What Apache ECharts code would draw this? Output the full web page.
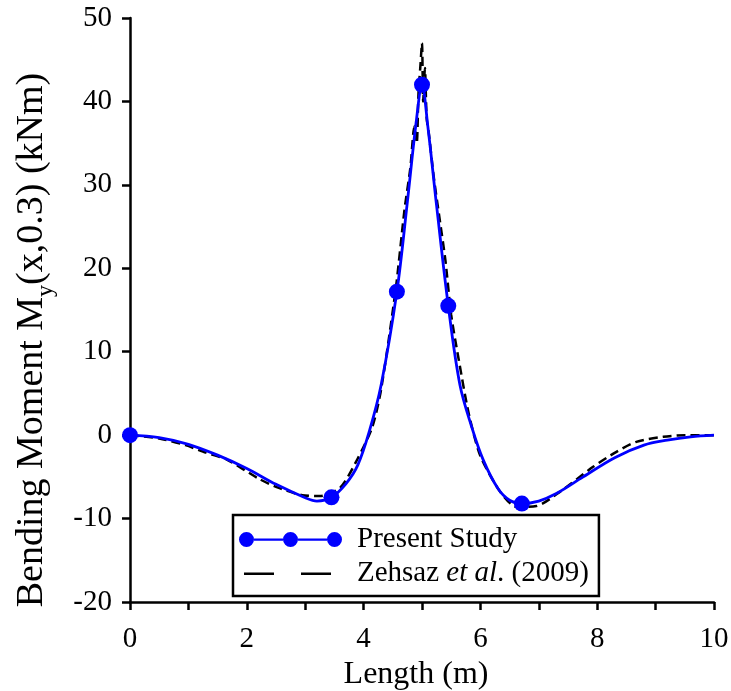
<!DOCTYPE html>
<html>
<head>
<meta charset="utf-8">
<script src="https://cdn.jsdelivr.net/npm/echarts@6/dist/echarts.min.js"></script>
<style>html,body{margin:0;padding:0;background:#fff;}#c{width:731px;height:691px;}</style>
</head>
<body>
<div id="c"></div>
<script>
// Present Study (smooth curve)
const presentX = [0, 0.5, 1.0, 1.5, 2.0, 2.5, 3.0, 3.2, 3.45, 3.7, 3.9, 4.1, 4.3, 4.57, 4.75, 4.9, 5.0, 5.1, 5.25, 5.45, 5.65, 5.85, 6.05, 6.3, 6.5, 6.71, 7.0, 7.3, 7.76, 8.3, 8.8, 9.2, 9.6, 10];
const presentY = [0, -0.3, -1.1, -2.4, -4.0, -5.9, -7.5, -7.9, -7.45, -5.8, -3.6, 0.5, 6.0, 17.2, 28.0, 37.5, 42.0, 37.0, 27.5, 15.5, 6.0, 1.0, -3.0, -6.4, -7.8, -8.2, -7.9, -7.0, -5.0, -2.7, -1.2, -0.6, -0.2, 0];
// Present Study markers
const markerX = [0, 3.45, 4.57, 5.0, 5.45, 6.71];
const markerY = [0, -7.45, 17.2, 42.0, 15.5, -8.2];
// Zehsaz et al. (2009)
const zehsazX = [0, 0.5, 0.95, 1.3, 1.65, 2.2, 2.5, 2.95, 3.25, 3.6, 3.9, 4.15, 4.3, 4.55, 4.7, 4.8, 4.87, 4.91, 4.94, 4.97, 5.0, 5.02, 5.05, 5.08, 5.12, 5.2, 5.3, 5.4, 5.5, 5.62, 5.8, 6.0, 6.34, 6.62, 6.96, 7.36, 7.93, 8.33, 8.67, 9.13, 9.5, 10];
const zehsazY = [0, -0.4, -1.2, -2.1, -2.9, -5.2, -6.2, -7.2, -7.3, -6.3, -2.8, 1.0, 5.5, 17.5, 27.0, 32.0, 37.0, 35.0, 41.0, 44.0, 47.0, 40.0, 44.0, 38.0, 36.0, 31.0, 26.0, 21.0, 14.4, 9.4, 2.6, -2.5, -6.8, -8.6, -8.5, -6.8, -3.8, -2.0, -0.8, -0.2, 0, 0];
const seriesNames = ['Present Study', 'Zehsaz et al. (2009)'];
const xTicks = {min: 0, max: 10, interval: 2};
const yTicks = {min: -20, max: 50, interval: 10};

const zip = (a, b) => a.map((v, i) => [v, b[i]]);
const FONT = '"Liberation Serif", "Times New Roman", serif';

const chart = echarts.init(document.getElementById('c'), null, {renderer: 'canvas'});
chart.setOption({
  animation: false,
  backgroundColor: '#fff',
  grid: {left: 130, right: 17, top: 18, bottom: 89, containLabel: false, outerBoundsMode: 'none'},
  xAxis: {
    type: 'value', min: xTicks.min, max: xTicks.max, interval: xTicks.interval,
    name: 'Length (m)', nameLocation: 'middle', nameGap: 57, nameMoveOverlap: false,
    nameTextStyle: {fontFamily: FONT, fontSize: 32, color: '#000', padding: [0, 12, 0, 0]},
    axisLine: {show: true, onZero: false, lineStyle: {color: '#000', width: 2.5}},
    axisTick: {show: true, inside: false, length: 8, lineStyle: {color: '#000', width: 2.5}},
    minorTick: {show: true, splitNumber: 2, length: 8, lineStyle: {color: '#000', width: 2.5}},
    axisLabel: {fontFamily: FONT, fontSize: 29, color: '#000', margin: 23},
    splitLine: {show: false}
  },
  yAxis: {
    type: 'value', min: yTicks.min, max: yTicks.max, interval: yTicks.interval,
    name: '{n|Bending Moment M}{s|y}{n|(x,0.3) (kNm)}', nameLocation: 'middle', nameGap: 79,
    nameRotate: 90, nameMoveOverlap: false,
    nameTextStyle: {fontFamily: FONT, fontSize: 38, color: '#000', padding: [0, 60, 0, 0],
      rich: {
        n: {fontFamily: FONT, fontSize: 38, color: '#000', lineHeight: 42, verticalAlign: 'bottom'},
        s: {fontFamily: FONT, fontSize: 24, color: '#000', lineHeight: 42, verticalAlign: 'bottom', padding: [0, 0, -7, 0]}
      }},
    axisLine: {show: true, onZero: false, lineStyle: {color: '#000', width: 2.5}},
    axisTick: {show: true, inside: false, length: 8, lineStyle: {color: '#000', width: 2.5}},
    axisLabel: {fontFamily: FONT, fontSize: 29, color: '#000', margin: 18},
    splitLine: {show: false}
  },
  legend: {
    orient: 'vertical', left: 233, top: 515,
    backgroundColor: '#fff', borderColor: '#000', borderWidth: 2.5, borderRadius: 0,
    padding: [10, 10, 8, 6], itemGap: 5, itemWidth: 103, itemHeight: 15,
    textStyle: {fontFamily: FONT, fontSize: 29, color: '#000',
      rich: {
        g: {width: 10},
        n: {fontFamily: FONT, fontSize: 29, color: '#000'},
        i: {fontFamily: FONT, fontSize: 29, color: '#000', fontStyle: 'italic'}
      }},
    formatter: function (name) {
      if (name === seriesNames[1]) return '{g|}{n|Zehsaz }{i|et al}{n|. (2009)}';
      return '{g|}{n|' + name + '}';
    },
    data: [
      {name: seriesNames[0], icon: 'path://M0,7.5a7.5,7.5 0 1,0 15,0a7.5,7.5 0 1,0 -15,0Z M44,7.5a7.5,7.5 0 1,0 15,0a7.5,7.5 0 1,0 -15,0Z M88,7.5a7.5,7.5 0 1,0 15,0a7.5,7.5 0 1,0 -15,0Z M15,6.5h29v2.2h-29Z M59,6.5h29v2.2h-29Z'},
      {name: seriesNames[1], icon: 'path://M0,0L0.01,0 M5,6.5h30v2.5h-30Z M62,6.5h30v2.5h-30Z M103,15L102.99,15'}
    ]
  },
  series: [
    {
      name: seriesNames[1], type: 'line', data: zip(zehsazX, zehsazY),
      showSymbol: false, symbol: 'none', smooth: 0.25, z: 2,
      itemStyle: {color: '#000'},
      lineStyle: {color: '#000', width: 2.5, type: [9, 5]}
    },
    {
      name: seriesNames[0], type: 'line', data: zip(presentX, presentY),
      showSymbol: false, symbol: 'none', smooth: 0.35, z: 3,
      itemStyle: {color: '#0000ff'},
      lineStyle: {color: '#0000ff', width: 2.8}
    },
    {
      name: 'markers', type: 'scatter', data: zip(markerX, markerY),
      symbol: 'circle', symbolSize: 16, z: 4,
      itemStyle: {color: '#0000ff', opacity: 1}
    }
  ]
});
</script>
</body>
</html>
